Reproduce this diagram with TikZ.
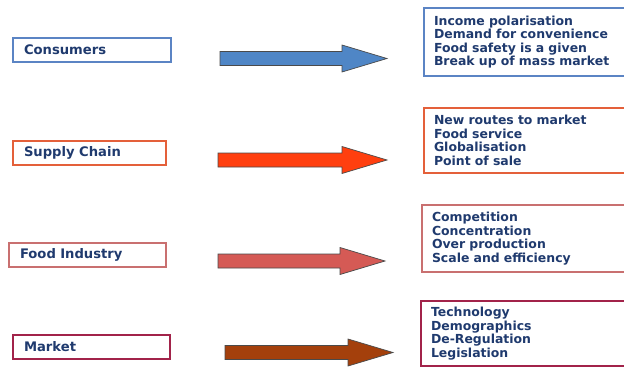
\documentclass[tikz,border=0pt]{standalone}
\usepackage{fontspec}
\setmainfont{DejaVu Sans}
\usetikzlibrary{calc}
\definecolor{navy}{HTML}{1F3A6E}
\definecolor{edge}{HTML}{4A4A4A}
\definecolor{conblue}{HTML}{5B84C4}
\definecolor{arrblue}{HTML}{4F86C6}
\definecolor{supred}{HTML}{E4603A}
\definecolor{arrred}{HTML}{FF3F0F}
\definecolor{foodpink}{HTML}{C97070}
\definecolor{arrfood}{HTML}{D55A55}
\definecolor{mktred}{HTML}{A2234A}
\definecolor{arrmkt}{HTML}{A4400C}
% block arrow from tail coordinate #1 to tip coordinate #2, filled with #3
\newcommand{\fatarrow}[3]{%
  \filldraw[fill=#3,draw=edge,line width=0.7bp,line join=miter]
    ($(#1)+(0,-7)$) -- ($(#2)+(-45,-7)$) -- ($(#2)+(-45,-13.5)$) -- (#2)
    -- ($(#2)+(-45,13.5)$) -- ($(#2)+(-45,7)$) -- ($(#1)+(0,7)$) -- cycle;}

\begin{document}
\begin{tikzpicture}[x=1bp,y=-1bp,
  every node/.style={font=\bfseries\fontsize{12.5}{13.6}\selectfont,text=navy},
  lbox/.style={draw=#1,line width=2bp,fill=white,inner xsep=11bp,inner ysep=0pt,
    outer sep=0pt,minimum height=24bp,anchor=west,align=left,
    font=\bfseries\fontsize{13.2}{14}\selectfont},
  rbox/.style={draw=#1,line width=2bp,fill=white,inner xsep=10bp,inner ysep=0pt,
    outer sep=0pt,text width=200bp,anchor=west,align=left}]
\clip (0,0) rectangle (624,367);
\fill[white] (0,0) rectangle (624,367);

% drivers on the left
\node[lbox=conblue,text width=136bp] (cons) at (13,50) {Consumers};
\node[lbox=supred,text width=131bp] (supply) at (13,152.5) {Supply Chain};
\node[lbox=foodpink,text width=135bp] (food) at (9,255) {Food Industry};
\node[lbox=mktred,text width=135bp] (mkt) at (13,347) {Market};

% trends on the right
\node[rbox=conblue,minimum height=68bp] (consT) at (424,42)
  {Income polarisation\\Demand for convenience\\Food safety is a given\\Break up of mass market};
\node[rbox=supred,minimum height=65bp] (supplyT) at (424,140.5)
  {New routes to market\\Food service\\Globalisation\\Point of sale};
\node[rbox=foodpink,minimum height=67bp] (foodT) at (422,238.5)
  {Competition\\Concentration\\Over production\\Scale and efficiency};
\node[rbox=mktred,minimum height=65bp] (mktT) at (421,333.5)
  {Technology\\Demographics\\De-Regulation\\Legislation};

% arrows
\coordinate (a1) at (220,58.5);  \coordinate (b1) at (387,58.5);
\coordinate (a2) at (218,160);   \coordinate (b2) at (387,160);
\coordinate (a3) at (218,261);   \coordinate (b3) at (385,261);
\coordinate (a4) at (225,352.5); \coordinate (b4) at (393,352.5);
\fatarrow{a1}{b1}{arrblue}
\fatarrow{a2}{b2}{arrred}
\fatarrow{a3}{b3}{arrfood}
\fatarrow{a4}{b4}{arrmkt}
\end{tikzpicture}
\end{document}
